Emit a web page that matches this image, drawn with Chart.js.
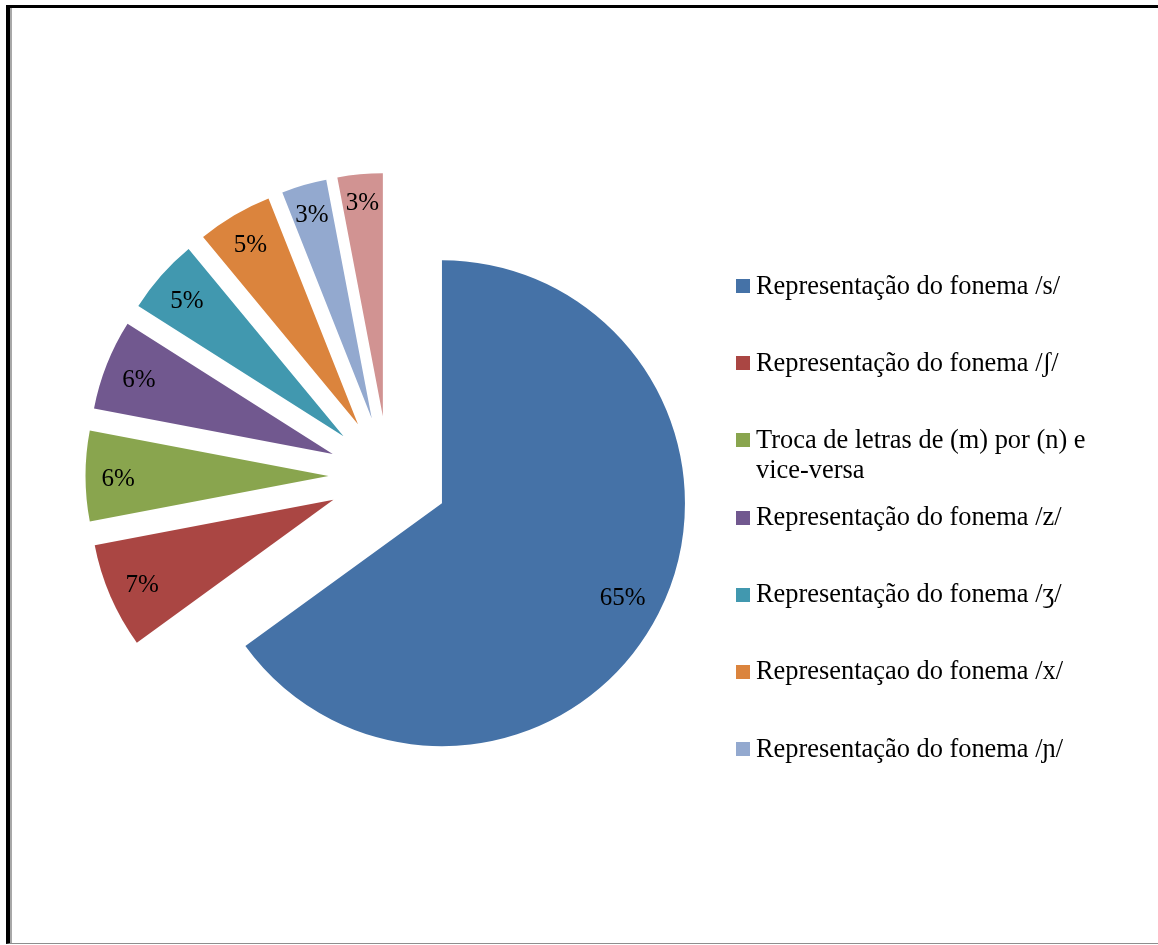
<!DOCTYPE html>
<html lang="pt">
<head>
<meta charset="utf-8">
<title>Erros ortográficos</title>
<script src="https://cdn.jsdelivr.net/npm/chart.js@4.4.1/dist/chart.umd.min.js"></script>
<style>
  html, body { margin: 0; padding: 0; background: #fff; overflow: hidden; width: 1158px; height: 945px; }
  #moldura {
    position: absolute; left: 6px; top: 5px; width: 1170px; height: 935px;
    border-top: 3px solid #000; border-left: 4px solid #000; border-bottom: 1px solid #8e8e8e;
    box-shadow: inset 2px 0 0 #a8a8a8;
  }
  #grafico { position: absolute; left: 0; top: 26px; width: 777px; height: 900px; }
  #legenda {
    position: absolute; left: 736px; top: 269.5px; width: 360px;
    font-family: "Liberation Serif", "Times New Roman", serif; font-size: 26.4px; line-height: 30px; color: #000;
  }
  .item { position: relative; height: 77.2px; padding-left: 20px; }
  .quadrado { position: absolute; left: 0; top: 9.5px; width: 14px; height: 14px; }
</style>
</head>
<body>
<div id="moldura"></div>
<div id="grafico"><canvas id="pizza"></canvas></div>
<div id="legenda"></div>

<script>
// categorias de erro e porcentagens
const categorias = [
  "Representação do fonema /s/",
  "Representação do fonema /ʃ/",
  "Troca de letras de (m) por (n) e vice-versa",
  "Representação do fonema /z/",
  "Representação do fonema /ʒ/",
  "Representaçao do fonema /x/",
  "Representação do fonema /ɲ/",
  "Outros"
];
const valores = [65, 7, 6, 6, 5, 5, 3, 3];
const cores = ["#4572A7", "#AA4643", "#89A54E", "#71588F", "#4198AF", "#DB843D", "#93A9CF", "#D19392"];

// só as sete primeiras aparecem na legenda
const itensNaLegenda = 7;

const EXPLOSAO = 60;     // distância de cada fatia ao centro
const FONTE = '"Liberation Serif", "Times New Roman", serif';

// afasta todas as fatias do centro, ao longo da bissetriz
const explodirFatias = {
  id: "explodirFatias",
  afterDatasetUpdate(chart, args) {
    args.meta.data.forEach(arco => {
      const meio = (arco.startAngle + arco.endAngle) / 2;
      arco.x += Math.cos(meio) * EXPLOSAO;
      arco.y += Math.sin(meio) * EXPLOSAO;
    });
  }
};

// porcentagens dentro das fatias, perto da borda
const rotulosPercentuais = {
  id: "rotulosPercentuais",
  afterDatasetsDraw(chart) {
    const ctx = chart.ctx;
    const meta = chart.getDatasetMeta(0);
    const total = valores.reduce((a, b) => a + b, 0);
    const altura = 17;
    ctx.save();
    ctx.font = "25px " + FONTE;
    ctx.fillStyle = "#000";
    ctx.textAlign = "center";
    ctx.textBaseline = "alphabetic";
    meta.data.forEach((arco, i) => {
      const texto = Math.round(valores[i] / total * 100) + "%";
      const meio = (arco.startAngle + arco.endAngle) / 2;
      const cos = Math.cos(meio), sin = Math.sin(meio);
      const largura = ctx.measureText(texto).width;
      const recuo = Math.abs(cos) * largura / 2 + Math.abs(sin) * altura / 2 + 16;
      const dist = arco.outerRadius - recuo;
      ctx.fillText(texto, arco.x + cos * dist, arco.y + sin * dist + altura / 2 + 1);
    });
    ctx.restore();
  }
};

const grafico = new Chart(document.getElementById("pizza"), {
  type: "pie",
  data: {
    labels: categorias,
    datasets: [{
      data: valores,
      backgroundColor: cores,
      borderWidth: 0,
      hoverOffset: 0,
      radius: 243
    }]
  },
  options: {
    responsive: true,
    maintainAspectRatio: false,
    animation: false,
    events: [],
    layout: { padding: 0 },
    plugins: {
      legend: { display: false },
      tooltip: { enabled: false }
    }
  },
  plugins: [explodirFatias, rotulosPercentuais]
});

function montarLegenda() {
  const legenda = document.getElementById("legenda");
  legenda.innerHTML = "";
  categorias.slice(0, itensNaLegenda).forEach((nome, i) => {
    const item = document.createElement("div");
    item.classList.add("item");

    const quadrado = document.createElement("span");
    quadrado.classList.add("quadrado");
    quadrado.style.background = cores[i];

    const texto = document.createElement("span");
    texto.textContent = nome;

    item.appendChild(quadrado);
    item.appendChild(texto);
    legenda.appendChild(item);
  });
}

montarLegenda();
</script>
</body>
</html>
